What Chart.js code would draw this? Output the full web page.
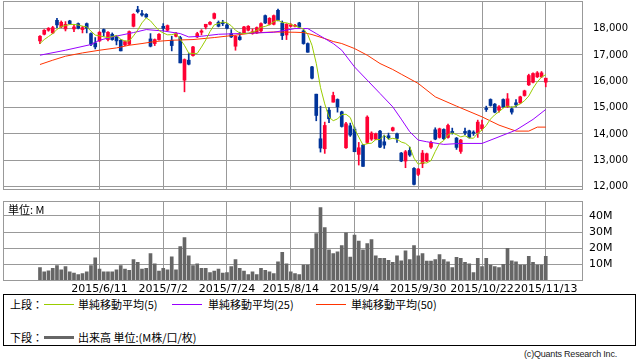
<!DOCTYPE html>
<html>
<head>
<meta charset="utf-8">
<script src="https://cdn.jsdelivr.net/npm/chart.js@4.4.0/dist/chart.umd.min.js"></script>
<style>
  body { margin: 0; background: #fff; width: 638px; height: 362px; overflow: hidden; position: relative; font-family: 'DejaVu Sans', sans-serif; }
  #priceChart { position: absolute; left: 0; top: 0; }
  #volumeChart { position: absolute; left: 0; top: 195px; }
  .unit { position: absolute; left: 8px; top: 202px; font-size: 11px; font-family: 'Noto Sans CJK JP', sans-serif; line-height: 14px; }
  #legend { position: absolute; left: 3px; top: 294px; width: 631px; height: 50px; border: 1px solid #000; font-family: 'Noto Sans CJK JP', sans-serif; font-size: 11px; background: #fff; }
  #legend span { position: absolute; line-height: 14px; white-space: nowrap; }
  #legend i { position: absolute; height: 0; }
  .copy { position: absolute; right: 21px; top: 349px; font-size: 9px; letter-spacing: -0.2px; font-family: 'Liberation Sans', sans-serif; color: #222; }
</style>
</head>
<body>
<canvas id="priceChart" width="638" height="192"></canvas>
<canvas id="volumeChart" width="638" height="103"></canvas>
<div class="unit">単位: M</div>
<div id="legend">
  <span style="left:6px;top:2px">上段：</span>
  <i style="left:40px;top:9px;width:30px;border-top:1px solid #99cc00"></i>
  <span style="left:74px;top:2px">単純移動平均(5)</span>
  <i style="left:168px;top:9px;width:30px;border-top:1px solid #9900ff"></i>
  <span style="left:204px;top:2px">単純移動平均(25)</span>
  <i style="left:312px;top:9px;width:30px;border-top:1px solid #ff3300"></i>
  <span style="left:347px;top:2px">単純移動平均(50)</span>
  <span style="left:6px;top:35px">下段：</span>
  <i style="left:40px;top:41px;width:30px;border-top:3px solid #666"></i>
  <span style="left:74px;top:35px">出来高 単位:(M株/口/枚)</span>
</div>
<div class="copy">(c)Quants Research Inc.</div>
<script>
// 日足 (2015/5/22 - 2015/11/13), index 0..119
const opens = [17532, 17784, 17936, 17835, 18314, 18062, 17986, 18289, 17986, 18188,
  17961, 18188, 17809, 17456, 17532, 17961, 17582, 17784, 17683, 17557,
  17380, 17405, 18087, 18718, 18567, 18542, 17607, 17431, 17582, 18087,
  17936, 17557, 17708, 17658, 16042, 16799, 16976, 17683, 17860, 18062,
  18163, 18390, 18239, 18239, 18138, 17809, 17330, 17683, 17835, 17936,
  17809, 17835, 17910, 18491, 18163, 18163, 18693, 18213, 17759, 18087,
  18087, 18213, 17910, 17431, 16547, 15511, 13819, 13440, 14905, 15208,
  15309, 14842, 13478, 14311, 14185, 13226, 13579, 13680, 13806, 13806,
  14109, 13705, 13933, 14135, 14008, 13276, 12973, 13377, 12695, 12468,
  12872, 12973, 13503, 14160, 13870, 14173, 13870, 14097, 13844, 13339,
  14097, 14122, 14072, 14046, 14198, 14981, 15309, 15132, 14905, 15309,
  15031, 14956, 15183, 15183, 15461, 15865, 15966, 16168, 16168, 15966];
const highs = [17734, 17961, 18037, 18087, 18390, 18289, 18264, 18314, 18138, 18213,
  18087, 18213, 17835, 17658, 17885, 17986, 17885, 17835, 17734, 17582,
  17532, 17910, 18567, 18845, 18693, 18567, 17809, 17607, 17809, 18188,
  18138, 17708, 17860, 17708, 16850, 17052, 17330, 17860, 17961, 18163,
  18264, 18592, 18289, 18314, 18188, 17961, 17734, 17860, 18087, 18112,
  17986, 18062, 18213, 18516, 18415, 18516, 18744, 18289, 18188, 18188,
  18163, 18239, 17961, 17456, 16572, 15511, 15057, 14451, 15006, 15587,
  15334, 14867, 14438, 14413, 14261, 13680, 13604, 14690, 14084, 14034,
  14135, 13958, 14034, 14261, 14034, 13301, 13377, 13503, 12721, 12695,
  13377, 13276, 13731, 14236, 14223, 14198, 14375, 14223, 13870, 13794,
  14223, 14147, 14122, 14526, 14526, 15056, 15334, 15158, 15082, 15334,
  15536, 15031, 15309, 15435, 15663, 16269, 16319, 16370, 16370, 16117];
const lows = [17431, 17759, 17898, 17809, 18037, 18037, 17910, 18163, 17885, 17986,
  17835, 17835, 17355, 17229, 17506, 17708, 17532, 17557, 17380, 17153,
  17355, 17380, 18062, 18592, 18466, 18415, 17304, 17355, 17557, 17910,
  17910, 17153, 17683, 16698, 15600, 16622, 16951, 17658, 17759, 17986,
  18138, 18365, 18062, 18112, 17986, 17658, 17178, 17557, 17809, 17910,
  17784, 17809, 17885, 18188, 18138, 18138, 18289, 17582, 17582, 18062,
  18062, 18037, 17405, 17102, 16092, 14501, 13314, 13264, 14425, 15208,
  14829, 14261, 13453, 13908, 13327, 12822, 12771, 13630, 13756, 13781,
  13478, 13453, 13806, 14109, 13680, 12948, 12721, 13150, 12064, 12418,
  12721, 12948, 13453, 13781, 13844, 13794, 13844, 13996, 13415, 13264,
  13971, 13844, 13945, 13870, 14147, 14854, 15056, 14804, 14829, 15006,
  15006, 14753, 15031, 15158, 15435, 15839, 15940, 16142, 16142, 15789];
const closes = [17708, 17936, 18011, 18037, 18138, 18239, 18163, 18188, 18062, 18011,
  18037, 18011, 17405, 17304, 17860, 17860, 17860, 17582, 17532, 17153,
  17506, 17885, 18542, 18643, 18516, 18441, 17330, 17582, 17784, 18011,
  18112, 17355, 17809, 16698, 16825, 16648, 17304, 17809, 17910, 18163,
  18239, 18567, 18087, 18188, 18011, 17683, 17708, 17582, 18062, 18087,
  17885, 18037, 18188, 18213, 18390, 18491, 18314, 17734, 18163, 18138,
  18125, 18062, 17431, 17102, 16117, 14703, 13466, 14324, 14577, 15461,
  15031, 14286, 14387, 13958, 13327, 13478, 12771, 14640, 14034, 14008,
  13503, 13579, 13857, 14236, 13832, 12973, 13327, 13200, 12089, 12670,
  13276, 13251, 13680, 13806, 14198, 13819, 14324, 14046, 13491, 13769,
  14046, 13870, 14021, 14451, 14349, 14930, 15082, 14829, 15031, 15031,
  15334, 14829, 15107, 15410, 15637, 16218, 16294, 16319, 16319, 16117];

// 出来高 (M)
const volumes = [8.2, 5.5, 6.2, 7.7, 9.3, 6.8, 8.8, 5.5, 4.8, 3.9,
  4.4, 5.5, 9.3, 14.2, 7.2, 5.5, 5.5, 5.5, 6.8, 9.3,
  7.2, 6.4, 13.0, 11.3, 7.2, 7.7, 16.7, 10.5, 6.0, 7.7,
  6.8, 14.8, 6.8, 21.0, 26.6, 15.4, 9.3, 10.5, 7.7, 7.7,
  5.1, 6.0, 7.2, 4.8, 5.1, 8.8, 13.0, 7.7, 6.0, 3.9,
  5.5, 3.9, 7.7, 6.4, 5.5, 4.4, 11.7, 17.5, 10.5, 5.5,
  4.4, 3.9, 9.7, 9.7, 19.6, 29.0, 45.1, 32.8, 19.1, 16.7,
  17.9, 21.6, 29.5, 14.6, 28.2, 24.5, 19.1, 22.9, 25.3, 15.4,
  13.8, 13.8, 12.6, 11.3, 15.4, 12.3, 18.5, 13.0, 21.6, 15.4,
  16.7, 12.1, 12.1, 13.0, 16.1, 13.0, 11.7, 8.2, 14.5, 13.8,
  11.3, 10.5, 5.1, 13.8, 8.8, 13.8, 9.7, 8.8, 8.1, 10.1,
  20.0, 12.3, 11.7, 9.7, 9.7, 15.0, 11.3, 9.7, 9.7, 15.0];

// 単純移動平均(5)
const ma5 = [17432, 17583, 17697, 17810, 17966, 18072, 18118, 18153, 18158, 18133,
  18092, 18062, 17905, 17754, 17723, 17688, 17658, 17693, 17739, 17597,
  17527, 17532, 17724, 17946, 18218, 18405, 18294, 18102, 17931, 17830,
  17764, 17769, 17814, 17597, 17360, 17067, 17057, 17057, 17299, 17567,
  17885, 18138, 18193, 18249, 18218, 18107, 17935, 17834, 17809, 17824,
  17865, 17931, 18052, 18082, 18143, 18264, 18319, 18228, 18218, 18168,
  18095, 18044, 17984, 17772, 17367, 16683, 15764, 15142, 14637, 14506,
  14572, 14736, 14748, 14625, 14198, 13887, 13584, 13635, 13650, 13786,
  13791, 13953, 13796, 13837, 13801, 13695, 13645, 13514, 13084, 12852,
  12912, 12897, 12993, 13337, 13642, 13751, 13965, 14039, 13976, 13890,
  13935, 13844, 13839, 14031, 14147, 14324, 14567, 14728, 14844, 14981,
  15061, 15011, 15066, 15142, 15263, 15440, 15733, 15976, 16157, 16253];

// 単純移動平均(25) / (50): 読み取り点 (index, value)
const ma25Idx = [0, 6, 12, 14, 17, 22, 25, 29, 33, 35, 38, 42, 47, 55, 60, 63, 65, 69, 71, 74,
  77, 80, 83, 85, 87, 89, 91, 95, 99, 104, 108, 112, 116, 119];
const ma25Val = [16989, 17178, 17394, 17557, 17682, 17848, 17962, 17909, 17810, 17682, 17708, 17784, 17810, 17860, 18000, 18000, 17810, 17432, 17178, 16545,
  16042, 15537, 15030, 14564, 14084, 13769, 13705, 13606, 13642, 13642, 13894, 14148, 14553, 14932];
const ma50Idx = [0, 3, 6, 10, 14, 18, 21, 24, 27, 31, 36, 41, 46, 50, 55, 60, 62, 64, 67, 69,
  71, 74, 77, 80, 83, 85, 89, 93, 98, 104, 108, 112, 115, 117, 119];
const ma50Val = [16636, 16800, 16951, 17076, 17178, 17266, 17368, 17432, 17508, 17557, 17583, 17659, 17750, 17833, 17871, 17860, 17848, 17773, 17621, 17508,
  17432, 17242, 16989, 16674, 16447, 16269, 15917, 15409, 15057, 14651, 14337, 14110, 14110, 14261, 14261];

// 目盛
const tickIdx = [14, 29, 44, 59, 74, 89, 104, 119];
const tickLabels = ['2015/6/11', '2015/7/2', '2015/7/24', '2015/8/14', '2015/9/4', '2015/9/30', '2015/10/22', '2015/11/13'];
const priceTicks = [12000, 13000, 14000, 15000, 16000, 17000, 18000];
const volumeTicks = [10, 20, 30, 40];

const UP = '#ff0033', DOWN = '#003399', GRID = '#999999';
const candleColors = closes.map((c, i) => c >= opens[i] ? UP : DOWN);
const xMin = -8.7, xMax = 127.76;

// 枠線
const frame = {
  id: 'frame',
  afterDraw(chart) {
    const a = chart.chartArea, ctx = chart.ctx;
    ctx.save();
    ctx.strokeStyle = GRID;
    ctx.lineWidth = 1;
    ctx.strokeRect(Math.round(a.left) + 0.5, Math.round(a.top) + 0.5, Math.round(a.right - a.left) - 1, Math.round(a.bottom - a.top) - 1);
    ctx.restore();
  }
};

const xScale = (showLabels) => ({
  type: 'linear', min: xMin, max: xMax, offset: false,
  afterBuildTicks: s => { s.ticks = tickIdx.map(v => ({ value: v })); },
  afterFit: s => { s.paddingLeft = 0; s.paddingRight = 0; },
  ticks: {
    display: showLabels, autoSkip: false, maxRotation: 0, padding: 2,
    color: '#000', font: { size: 11, family: 'DejaVu Sans' },
    callback: v => tickLabels[tickIdx.indexOf(v)]
  },
  grid: { color: GRID, drawTicks: false, offset: false },
  border: { display: false }
});

const yFit = s => { s.width = 55; s.paddingTop = 0; s.paddingBottom = 0; };

const lineSet = (label, data, color, order) => ({
  type: 'line', label: label, data: data, borderColor: color, borderWidth: 1,
  pointRadius: 0, tension: 0, spanGaps: true, order: order
});

// 上段: ローソク足 + 移動平均
const priceConfig = {
  type: 'bar',
  data: {
    datasets: [
      lineSet('単純移動平均(5)', ma5.map((v, i) => ({ x: i, y: v })), '#99cc00', 0),
      lineSet('単純移動平均(25)', ma25Idx.map((k, j) => ({ x: k, y: ma25Val[j] })), '#9900ff', 0),
      lineSet('単純移動平均(50)', ma50Idx.map((k, j) => ({ x: k, y: ma50Val[j] })), '#ff3300', 0),
      {
        label: 'body', data: opens.map((o, i) => ({ x: i, y: [o, closes[i]] })),
        backgroundColor: candleColors, barThickness: 3, minBarLength: 1, grouped: false, order: 1
      },
      {
        label: 'wick', data: lows.map((l, i) => ({ x: i, y: [l, highs[i]] })),
        backgroundColor: candleColors, barThickness: 1, grouped: false, order: 2
      }
    ]
  },
  options: {
    responsive: false, animation: false,
    layout: { padding: { left: 3, top: 1, bottom: 2, right: 0 } },
    plugins: { legend: { display: false }, tooltip: { enabled: false } },
    scales: {
      x: xScale(false),
      y: {
        position: 'right', min: 11875, max: 19046,
        afterBuildTicks: s => { s.ticks = priceTicks.map(v => ({ value: v })); },
        afterFit: yFit,
        ticks: { padding: 10, color: '#000', font: { size: 10, family: 'DejaVu Sans' }, callback: v => v.toLocaleString('en-US') },
        grid: { color: GRID, drawTicks: false },
        border: { display: false }
      }
    }
  },
  plugins: [frame]
};
const priceChart = new Chart(document.getElementById('priceChart'), priceConfig);

// 下段: 出来高
const volumeConfig = {
  type: 'bar',
  data: {
    datasets: [{
      label: '出来高', data: volumes.map((v, i) => ({ x: i, y: v })),
      backgroundColor: '#666666', barThickness: 3
    }]
  },
  options: {
    responsive: false, animation: false,
    layout: { padding: { left: 3, top: 6, bottom: 0, right: 0 } },
    plugins: { legend: { display: false }, tooltip: { enabled: false } },
    scales: {
      x: xScale(true),
      y: {
        position: 'right', min: 0, max: 49.1,
        afterBuildTicks: s => { s.ticks = volumeTicks.map(v => ({ value: v })); },
        afterFit: yFit,
        ticks: { padding: 6, color: '#000', font: { size: 11, family: 'DejaVu Sans' }, callback: v => v + 'M' },
        grid: { color: GRID, drawTicks: false },
        border: { display: false }
      }
    }
  },
  plugins: [frame]
};
const volumeChart = new Chart(document.getElementById('volumeChart'), volumeConfig);
</script>
</body>
</html>
